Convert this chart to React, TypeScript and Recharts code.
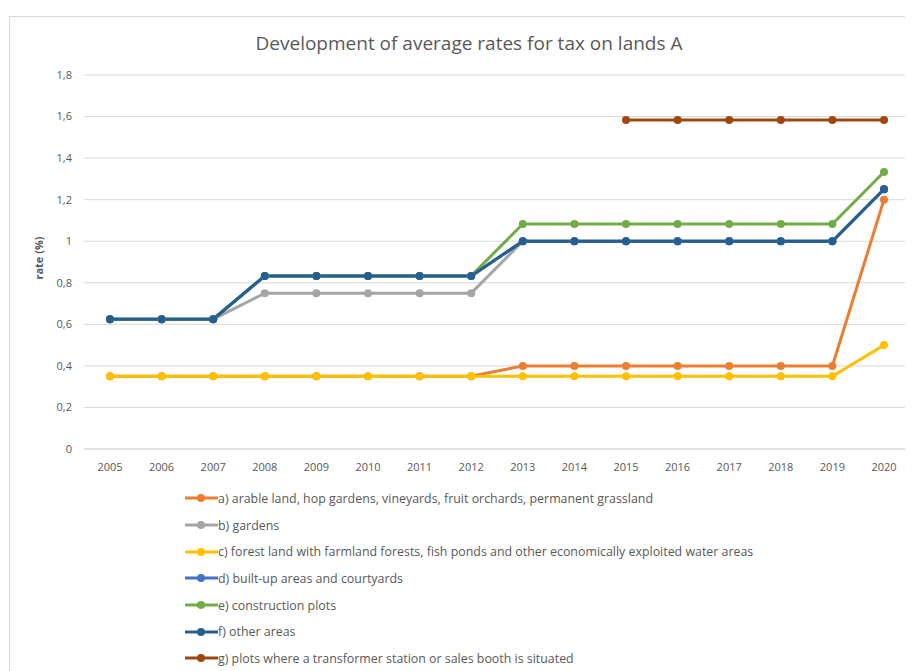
import React from 'react';
import { LineChart, Line, XAxis, YAxis, CartesianGrid, Legend } from 'recharts';

const years = ['2005','2006','2007','2008','2009','2010','2011','2012','2013','2014','2015','2016','2017','2018','2019','2020'];

const seriesA = [0.35,0.35,0.35,0.35,0.35,0.35,0.35,0.35,0.4,0.4,0.4,0.4,0.4,0.4,0.4,1.2];
const seriesB = [0.625,0.625,0.625,0.75,0.75,0.75,0.75,0.75,1.0,1.0,1.0,1.0,1.0,1.0,1.0,1.25];
const seriesC = [0.35,0.35,0.35,0.35,0.35,0.35,0.35,0.35,0.35,0.35,0.35,0.35,0.35,0.35,0.35,0.5];
const seriesD = [0.625,0.625,0.625,0.833,0.833,0.833,0.833,0.833,1.0,1.0,1.0,1.0,1.0,1.0,1.0,1.25];
const seriesE = [0.625,0.625,0.625,0.833,0.833,0.833,0.833,0.833,1.083,1.083,1.083,1.083,1.083,1.083,1.083,1.333];
const seriesF = [0.625,0.625,0.625,0.833,0.833,0.833,0.833,0.833,1.0,1.0,1.0,1.0,1.0,1.0,1.0,1.25];
const seriesG: (number | null)[] = [null,null,null,null,null,null,null,null,null,null,1.583,1.583,1.583,1.583,1.583,1.583];

const yTicks = [0, 0.2, 0.4, 0.6, 0.8, 1, 1.2, 1.4, 1.6, 1.8];

const seriesDefs = [
  { key: 'a', name: 'a) arable land, hop gardens, vineyards, fruit orchards, permanent grassland', color: '#ED7D31', values: seriesA },
  { key: 'b', name: 'b) gardens', color: '#A5A5A5', values: seriesB },
  { key: 'c', name: 'c) forest land with farmland forests, fish ponds and other economically exploited water areas', color: '#FFC000', values: seriesC },
  { key: 'd', name: 'd) built-up areas and courtyards', color: '#4472C4', values: seriesD },
  { key: 'e', name: 'e) construction plots', color: '#70AD47', values: seriesE },
  { key: 'f', name: 'f) other areas', color: '#255E91', values: seriesF },
  { key: 'g', name: 'g) plots where a transformer station or sales booth is situated', color: '#9E480E', values: seriesG },
];

const data = years.map((y, i) => {
  const row: any = { year: y };
  seriesDefs.forEach((s) => { row[s.key] = s.values[i]; });
  return row;
});

const FONT = '"Open Sans", "Liberation Sans", sans-serif';
const TXT = '#595959';

const renderLegend = () => (
  <div style={{ fontFamily: FONT, fontSize: 12.4, color: TXT, textAlign: 'left' }}>
    {seriesDefs.map((s) => (
      <div key={s.key} style={{ display: 'flex', alignItems: 'center', height: 26.7, whiteSpace: 'nowrap' }}>
        <svg width={33} height={10} style={{ marginRight: 0 }}>
          <line x1={0} y1={5} x2={33} y2={5} stroke={s.color} strokeWidth={3} />
          <circle cx={16} cy={5} r={4} fill={s.color} />
        </svg>
        <span>{s.name}</span>
      </div>
    ))}
  </div>
);

const fmt = (v: number) => String(Math.round(v * 10) / 10).replace('.', ',');

export default function App() {
  return (
    <div style={{ position: 'relative', width: 905, height: 663, overflow: 'hidden', background: '#fff' }}>
      <div style={{ position: 'absolute', left: 1, top: 8, width: 1000, height: 1000, border: '1px solid #d9d9d9', boxSizing: 'border-box' }} />
      <div style={{ position: 'absolute', left: 461, top: 23, transform: 'translateX(-50%)', whiteSpace: 'nowrap', fontFamily: FONT, fontSize: 19, color: TXT, lineHeight: '24px' }}>
        Development of average rates for tax on lands A
      </div>
      <LineChart
        width={905}
        height={663}
        data={data}
        margin={{ top: 67, right: 3, left: 26, bottom: 192 }}
        style={{ position: 'absolute', left: 0, top: 0 }}
      >
        <CartesianGrid vertical={false} stroke="#d9d9d9" strokeWidth={1} />
        <XAxis
          dataKey="year"
          axisLine={{ stroke: '#d9d9d9' }}
          tickLine={false}
          tickSize={8}
          tickMargin={6}
          height={30}
          padding={{ left: 26, right: 26 }}
          tick={{ fontFamily: FONT, fontSize: 11, fill: TXT }}
          interval={0}
        />
        <YAxis
          domain={[0, 1.8]}
          ticks={yTicks}
          width={50}
          axisLine={false}
          tickLine={false}
          tickSize={10}
          tickMargin={2}
          tickFormatter={fmt}
          tick={{ fontFamily: FONT, fontSize: 11, fill: TXT }}
          label={{ value: 'rate (%)', angle: -90, position: 'insideLeft', offset: 5, dy: -4, style: { fontFamily: FONT, fontSize: 11, fontWeight: 'bold', fill: TXT, textAnchor: 'middle' } }}
        />
        <Legend
          layout="horizontal"
          verticalAlign="middle"
          align="center"
          content={renderLegend}
          wrapperStyle={{ position: 'absolute', left: 177, top: 477, width: 720, height: 190 }}
        />
        {seriesDefs.map((s) => (
          <Line
            key={s.key}
            type="linear"
            dataKey={s.key}
            name={s.name}
            stroke={s.color}
            strokeWidth={3}
            dot={{ r: 4, fill: s.color, stroke: s.color, strokeWidth: 0 }}
            activeDot={false}
            isAnimationActive={false}
            connectNulls={false}
          />
        ))}
      </LineChart>
    </div>
  );
}
